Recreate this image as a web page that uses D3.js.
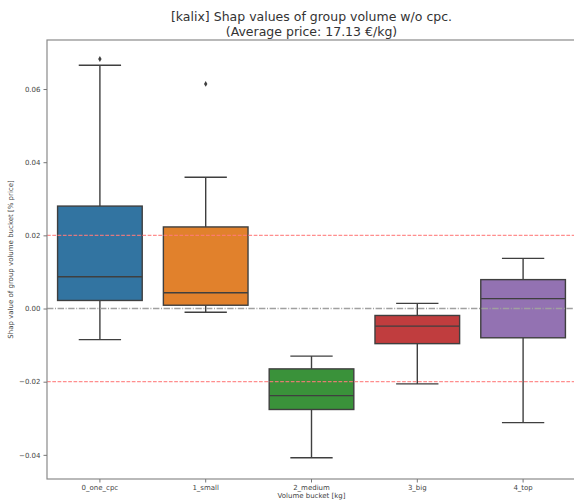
<!DOCTYPE html>
<html>
<head>
<meta charset="utf-8">
<script src="https://cdn.jsdelivr.net/npm/d3@7"></script>
<style>
  body { margin: 0; background: #fff; }
  text { font-family: "DejaVu Sans", sans-serif; }
</style>
</head>
<body>
<div id="chart"></div>
<script>
// box stats
const categories = ["0_one_cpc", "1_small", "2_medium", "3_big", "4_top"];
const whiskerLow  = [-0.0085, -0.0010, -0.0408, -0.0206, -0.0312];
const q1          = [ 0.0022,  0.0009, -0.0276, -0.0096, -0.0080];
const medians     = [ 0.0087,  0.0043, -0.0238, -0.0048,  0.0027];
const q3          = [ 0.0280,  0.0223, -0.0165, -0.0019,  0.0079];
const whiskerHigh = [ 0.0665,  0.0359, -0.0130,  0.0014,  0.0137];
const outliers    = [[0.0682], [0.0614], [], [], []];
const colors = ["#3274a1", "#e1812c", "#3a923a", "#c03d3e", "#9372b2"];
const yTicks = [-0.04, -0.02, 0.00, 0.02, 0.04, 0.06];
const threshold = 0.02;

const w = 574, h = 504;
const margin = {top: 40, left: 47, bottom: 479, right: 576};

const svg = d3.select("#chart").append("svg")
    .attr("width", w)
    .attr("height", h);

const x = d3.scaleBand()
    .domain(categories)
    .range([margin.left, margin.right])
    .padding(0);

const y = d3.scaleLinear()
    .domain([-0.0466, 0.0734])
    .range([margin.bottom, margin.top]);

const boxW = x.bandwidth() * 0.8;
const capW = boxW / 2;
const lineCol = "#3f3f3f";

const data = categories.map((c, i) => ({
    cat: c, lo: whiskerLow[i], q1: q1[i], med: medians[i], q3: q3[i],
    hi: whiskerHigh[i], out: outliers[i], color: colors[i]
}));

const boxes = svg.append("g")
    .selectAll("g")
    .data(data)
    .enter()
    .append("g")
    .attr("transform", d => `translate(${x(d.cat) + x.bandwidth() / 2},0)`);

// whiskers
boxes.append("line")
    .attr("y1", d => y(d.q3)).attr("y2", d => y(d.hi))
    .attr("stroke", lineCol).attr("stroke-width", 1.4);
boxes.append("line")
    .attr("y1", d => y(d.q1)).attr("y2", d => y(d.lo))
    .attr("stroke", lineCol).attr("stroke-width", 1.4);
// caps
boxes.append("line")
    .attr("x1", -capW / 2).attr("x2", capW / 2)
    .attr("y1", d => y(d.hi)).attr("y2", d => y(d.hi))
    .attr("stroke", lineCol).attr("stroke-width", 1.4);
boxes.append("line")
    .attr("x1", -capW / 2).attr("x2", capW / 2)
    .attr("y1", d => y(d.lo)).attr("y2", d => y(d.lo))
    .attr("stroke", lineCol).attr("stroke-width", 1.4);
// boxes
boxes.append("rect")
    .attr("x", -boxW / 2)
    .attr("width", boxW)
    .attr("y", d => y(d.q3))
    .attr("height", d => y(d.q1) - y(d.q3))
    .attr("fill", d => d.color)
    .attr("stroke", lineCol).attr("stroke-width", 1.4);
// medians
boxes.append("line")
    .attr("x1", -boxW / 2).attr("x2", boxW / 2)
    .attr("y1", d => y(d.med)).attr("y2", d => y(d.med))
    .attr("stroke", lineCol).attr("stroke-width", 1.4);
// fliers
boxes.selectAll("path.flier")
    .data(d => d.out)
    .enter()
    .append("path")
    .attr("class", "flier")
    .attr("d", d3.symbol().type(d3.symbolDiamond).size(10))
    .attr("transform", d => `translate(0,${y(d)})`)
    .attr("fill", lineCol);

// reference lines
svg.append("line")
    .attr("x1", margin.left).attr("x2", margin.right)
    .attr("y1", y(0)).attr("y2", y(0))
    .attr("stroke", "#a0a0a0").attr("stroke-width", 1.4)
    .attr("stroke-dasharray", "6.4,1.6,1,1.6");
[threshold, -threshold].forEach(t => {
    svg.append("line")
        .attr("x1", margin.left).attr("x2", margin.right)
        .attr("y1", y(t)).attr("y2", y(t))
        .attr("stroke", "#ff7a7a").attr("stroke-opacity", 0.85)
        .attr("stroke-width", 1.2)
        .attr("stroke-dasharray", "3.7,1.6");
});

// frame
svg.append("rect")
    .attr("x", margin.left).attr("y", margin.top)
    .attr("width", margin.right - margin.left)
    .attr("height", margin.bottom - margin.top)
    .attr("fill", "none")
    .attr("stroke", "#8a8a8a").attr("stroke-width", 1.2);

// axes
const yAxis = svg.append("g")
    .attr("transform", `translate(${margin.left},0)`)
    .call(d3.axisLeft(y).tickValues(yTicks).tickFormat(d3.format(".2f")).tickSize(3.5).tickPadding(3));
const xAxis = svg.append("g")
    .attr("transform", `translate(0,${margin.bottom})`)
    .call(d3.axisBottom(x).tickSize(3.5).tickPadding(3));
[xAxis, yAxis].forEach(a => {
    a.select(".domain").remove();
    a.selectAll("line").attr("stroke", "#777");
    a.selectAll("text").attr("font-size", 7).attr("fill", "#444")
        .attr("font-family", "DejaVu Sans");
});

svg.append("text")
    .attr("x", (margin.left + margin.right) / 2)
    .attr("y", 498)
    .attr("text-anchor", "middle")
    .attr("font-size", 7).attr("fill", "#444")
    .text("Volume bucket [kg]");

svg.append("text")
    .attr("transform", `translate(13,${(margin.top + margin.bottom) / 2}) rotate(-90)`)
    .attr("text-anchor", "middle")
    .attr("font-size", 7).attr("fill", "#444")
    .text("Shap value of group volume bucket [% price]");

// title
const title = svg.append("text")
    .attr("x", (margin.left + margin.right) / 2)
    .attr("text-anchor", "middle")
    .attr("font-size", 12.5).attr("fill", "#333");
title.append("tspan").attr("x", (margin.left + margin.right) / 2).attr("y", 20.5)
    .text("[kalix] Shap values of group volume w/o cpc.");
title.append("tspan").attr("x", (margin.left + margin.right) / 2).attr("y", 36)
    .text("(Average price: 17.13 €/kg)");
</script>
</body>
</html>
